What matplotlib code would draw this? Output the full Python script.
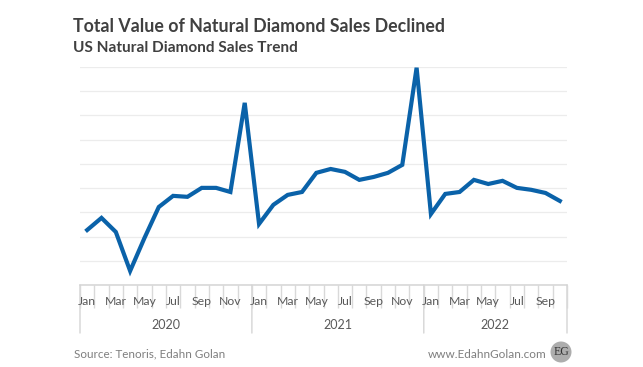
import numpy as np
from matplotlib import pyplot as plt
from matplotlib.patches import Ellipse

plt.rcParams['font.family'] = ['Lato', 'DejaVu Sans']

W, H = 643, 367

months = ['Jan', 'Feb', 'Mar', 'Apr', 'May', 'Jun', 'Jul', 'Aug', 'Sep', 'Oct', 'Nov', 'Dec',
          'Jan', 'Feb', 'Mar', 'Apr', 'May', 'Jun', 'Jul', 'Aug', 'Sep', 'Oct', 'Nov', 'Dec',
          'Jan', 'Feb', 'Mar', 'Apr', 'May', 'Jun', 'Jul', 'Aug', 'Sep', 'Oct']
years = ['2020', '2021', '2022']
year_counts = [12, 12, 10]
sales = [22.7, 27.7, 21.9, 5.8, 19.4, 32.2, 36.8, 36.4, 40.1, 40.1, 38.4, 75.2,
         25.2, 33.1, 37.2, 38.4, 46.3, 47.9, 46.7, 43.4, 44.6, 46.3, 49.6, 89.7,
         29.3, 37.6, 38.4, 43.4, 41.7, 43.0, 40.1, 39.3, 38.0, 34.7]
y_ticks = [0, 10, 20, 30, 40, 50, 60, 70, 80, 90]

fig = plt.figure(figsize=(W / 100, H / 100), dpi=100)
ax = fig.add_axes([80 / W, 1 - 285 / H, 487 / W, 218 / H])

x = np.arange(len(sales))
ax.plot(x, sales, color='#0a62a9', lw=3.0, solid_joinstyle='miter', clip_on=False, zorder=3)
ax.set_xlim(-0.5, len(sales) - 0.5)
ax.set_ylim(0, 90)

ax.set_yticks(y_ticks)
ax.tick_params(axis='y', length=0, labelleft=False)
ax.grid(axis='y', color='#ececec', lw=0.9)
ax.set_axisbelow(True)
for s in ['top', 'left', 'right']:
    ax.spines[s].set_visible(False)
ax.spines['bottom'].set_color('#d4d4d4')
ax.spines['bottom'].set_linewidth(1.1)

# separators between the months are major ticks so the labels draw on top of them
edges = np.arange(len(sales) + 1) - 0.5
ax.set_xticks(edges)
ax.set_xticklabels([])
ax.tick_params(axis='x', which='major', length=16.5, width=1.0, color='#d9d9d9')

# month labels on every other category
ax.set_xticks(x[::2], minor=True)
ax.set_xticklabels(months[::2], minor=True, fontsize=8.8, color='#595959')
ax.tick_params(axis='x', which='minor', length=0, pad=8)

# longer separators between the years
year_edges = np.cumsum([0] + year_counts) - 0.5
for e in year_edges:
    ax.annotate('', xy=(e, 0), xytext=(e, -48), xycoords=('data', 'axes points'),
                textcoords=('data', 'offset pixels'), zorder=0.1,
                arrowprops=dict(arrowstyle='-', color='#d9d9d9', lw=1.1, shrinkA=0, shrinkB=0),
                annotation_clip=False)
start = 0
for name, n in zip(years, year_counts):
    ax.annotate(name, xy=(start + n / 2 - 0.5, 0), xycoords=('data', 'axes fraction'),
                xytext=(0, -40), textcoords='offset pixels', ha='center', va='center',
                fontsize=9.0, color='#595959', annotation_clip=False)
    start += n

fig.text(73 / W, 1 - 27 / H, 'Total Value of Natural Diamond Sales Declined', fontsize=12.8,
         fontweight='bold', color='#404040', va='center')
fig.text(73 / W, 1 - 47.5 / H, 'US Natural Diamond Sales Trend', fontsize=11.05,
         fontweight='bold', color='#404040', va='center')
fig.text(74 / W, 1 - 354 / H, 'Source: Tenoris, Edahn Golan', fontsize=8.4, color='#7f7f7f', va='center')
fig.text(547 / W, 1 - 354 / H, 'www.EdahnGolan.com', fontsize=8.5, color='#7f7f7f', va='center', ha='right')

fig.add_artist(Ellipse((561 / W, 1 - 352 / H), 21 / W, 21 / H, transform=fig.transFigure,
                       facecolor='#adadad', edgecolor='none'))
fig.text(561 / W, 1 - 352 / H, 'EG', fontsize=8.5, family='Liberation Serif', color='#333333',
         ha='center', va='center')

fig.savefig('out.png', dpi=100)
